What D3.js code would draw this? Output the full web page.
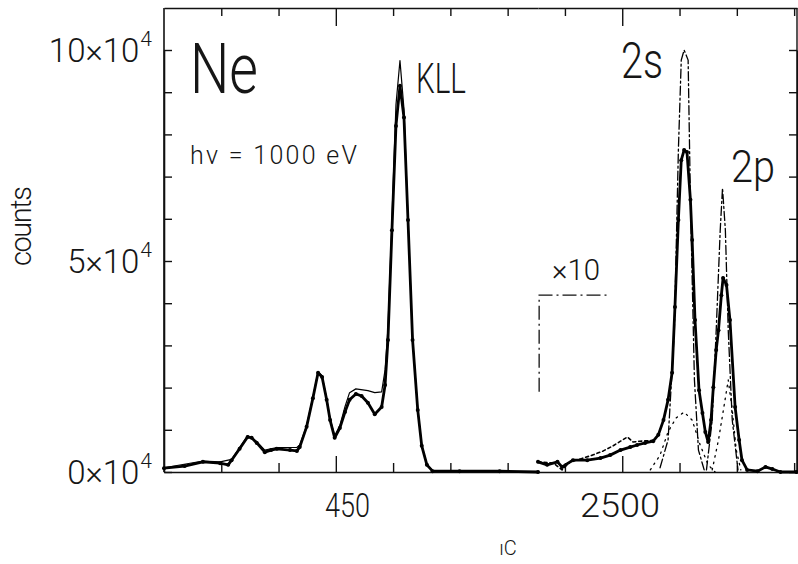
<!DOCTYPE html>
<html>
<head>
<meta charset="utf-8">
<script src="https://cdn.jsdelivr.net/npm/d3@7/dist/d3.min.js"></script>
<style>
  body { margin: 0; background: #fff; }
  text { font-family: Roboto, "Open Sans", "Liberation Sans", sans-serif; font-weight: 300; fill: #161616; }
</style>
</head>
<body>
<div id="chart"></div>
<script>
// Frame size and plot box
const FRAME_WIDTH = 798;
const FRAME_HEIGHT = 564;
const BOX = {left: 164, right: 797, top: 8, bottom: 472, split: 538};

// Broken x axis: two segments
const X_LEFT_DOMAIN = [420, 485.3];
const X_RIGHT_DOMAIN = [2485.3, 2530.5];
const X_LEFT_TICKS = [430, 440, 450, 460, 470, 480];
const X_RIGHT_TICKS = [2490, 2500, 2510, 2520, 2530];
const X_LABELED = [450, 2500];
const Y_TICKS = [0, 1, 2, 3, 4, 5, 6, 7, 8, 9, 10];
const Y_LABELED = [0, 5, 10];

// KLL Auger region (counts in units of 10^4)
const kllMeasured = [[420.0,0.09],[423.6,0.14],[426.8,0.24],[429.8,0.21],[431.2,0.17],[431.8,0.28],[433.2,0.55],
  [434.6,0.83],[435.3,0.81],[436.2,0.69],[437.6,0.47],[438.7,0.52],[439.7,0.55],[442.0,0.52],[443.2,0.50],
  [443.7,0.59],[444.9,1.07],[446.0,1.75],[446.9,2.35],[447.6,2.25],[448.4,1.71],[449.0,1.23],[449.8,0.81],
  [450.7,1.04],[451.6,1.42],[452.4,1.71],[453.5,1.85],[454.5,1.80],[455.6,1.64],[456.8,1.37],[458.0,1.54],
  [458.6,2.06],[459.1,3.13],[459.8,5.73],[460.5,8.20],[461.2,9.15],[461.9,8.40],[462.6,5.97],[463.4,3.13],
  [464.3,1.47],[465.0,0.62],[465.9,0.17],[466.9,0.02],[471.6,0.02],[478.6,0.02],[485.3,0.0]];
const kllFit = [[420.0,0.10],[426.8,0.26],[429.8,0.24],[431.8,0.30],[433.2,0.58],[434.6,0.86],[436.2,0.72],
  [437.6,0.52],[439.7,0.58],[443.2,0.58],[443.7,0.64],[444.9,1.10],[446.0,1.78],[446.9,2.38],[447.6,2.28],
  [448.4,1.74],[449.0,1.26],[449.8,0.86],[450.7,1.10],[451.6,1.55],[452.4,1.88],[453.5,1.97],[455.6,1.93],
  [456.8,1.88],[458.0,1.90],[458.6,2.42],[459.1,3.40],[459.8,6.00],[460.5,8.70],[461.2,9.75],[461.9,8.60],
  [462.6,6.00],[463.4,3.15],[464.3,1.50],[465.0,0.64],[465.9,0.18],[466.9,0.03]];

// 2s / 2p photoline region (x10 below the bracket)
const lineMeasured = [[2485.3,0.24],[2486.9,0.17],[2488.7,0.24],[2489.5,0.12],[2491.4,0.28],[2493.9,0.28],
  [2496.2,0.33],[2497.9,0.40],[2499.7,0.52],[2501.4,0.59],[2502.6,0.64],[2504.0,0.69],[2505.4,0.73],
  [2506.3,0.88],[2507.2,1.23],[2508.0,1.71],[2508.7,2.35],[2509.2,3.91],[2509.8,5.97],[2510.3,7.39],
  [2510.8,7.63],[2511.3,7.58],[2511.9,6.45],[2512.2,5.50],[2512.7,3.60],[2513.4,1.94],[2514.0,1.40],
  [2514.5,0.95],[2515.0,0.71],[2515.5,1.23],[2515.9,2.01],[2516.4,2.89],[2516.8,3.36],[2517.3,4.19],
  [2517.6,4.60],[2518.2,4.43],[2518.8,3.60],[2519.7,1.54],[2520.4,0.76],[2520.9,0.28],[2521.8,0.05],
  [2523.6,0.02],[2525.0,0.12],[2526.2,0.07],[2527.6,0.0],[2530.4,0.0]];
const lineRaw = [[2485.3,0.24],[2488.0,0.21],[2489.5,0.05],[2490.9,0.24],[2492.7,0.31],[2494.8,0.40],
  [2496.7,0.50],[2498.4,0.62],[2499.7,0.73],[2500.9,0.83],[2501.9,0.71],[2503.1,0.73],[2505.4,0.75]];
const peak2s = [[2506.6,0.10],[2508.0,0.76],[2509.1,3.36],[2509.8,7.63],[2510.3,9.76],[2510.8,10.0],
  [2511.5,9.76],[2511.9,6.45],[2512.6,2.18],[2513.3,0.52],[2514.3,0.05]];
const peak2p = [[2514.7,0.05],[2515.7,1.23],[2516.4,3.36],[2517.1,5.73],[2517.5,6.73],[2518.0,5.73],
  [2518.5,3.36],[2519.2,1.23],[2520.2,0.05]];
const comp2s = [[2504.9,0.05],[2506.6,0.40],[2508.0,0.95],[2509.4,1.28],[2510.8,1.42],[2512.2,1.23],
  [2513.6,0.64],[2515.0,0.17],[2516.2,0.0]];
const comp2p = [[2515.7,0.05],[2516.8,0.76],[2517.8,1.59],[2518.5,2.18],[2519.2,1.47],[2519.9,0.52],[2520.7,0.05]];

const FRAME = d3.select("#chart")
  .append("svg")
    .attr("width", FRAME_WIDTH)
    .attr("height", FRAME_HEIGHT);

// Scales
const X_LEFT = d3.scaleLinear().domain(X_LEFT_DOMAIN).range([BOX.left, BOX.split]);
const X_RIGHT = d3.scaleLinear().domain(X_RIGHT_DOMAIN).range([BOX.split, BOX.right]);
const Y = d3.scaleLinear().domain([0, 10]).range([BOX.bottom, 50]);
const xOf = v => v < 2000 ? X_LEFT(v) : X_RIGHT(v);

// Axes with inward ticks, longer ticks where labeled
function styleAxis(g) {
  g.selectAll("path.domain").attr("stroke", "#111").attr("stroke-width", 1.6);
  g.selectAll(".tick line").attr("stroke", "#111").attr("stroke-width", 1.4);
  g.selectAll(".tick text").remove();
}

function xAxes(scale, ticks) {
  FRAME.append("g")
    .attr("transform", "translate(0," + BOX.bottom + ")")
    .call(d3.axisBottom(scale).tickValues(ticks).tickSizeInner(-9).tickSizeOuter(0))
    .call(styleAxis)
    .selectAll(".tick line")
      .attr("y2", d => X_LABELED.includes(d) ? -16 : -9);
  FRAME.append("g")
    .attr("transform", "translate(0," + BOX.top + ")")
    .call(d3.axisTop(scale).tickValues(ticks).tickSizeInner(-8).tickSizeOuter(0))
    .call(styleAxis)
    .selectAll(".tick line")
      .attr("y2", d => X_LABELED.includes(d) ? 18 : 8);
}
xAxes(X_LEFT, X_LEFT_TICKS);
xAxes(X_RIGHT, X_RIGHT_TICKS);

FRAME.append("g")
  .attr("transform", "translate(" + BOX.left + ",0)")
  .call(d3.axisLeft(Y).tickValues(Y_TICKS).tickSizeInner(-8).tickSizeOuter(0))
  .call(styleAxis);
FRAME.append("g")
  .attr("transform", "translate(" + BOX.right + ",0)")
  .call(d3.axisRight(Y).tickValues(Y_TICKS).tickSizeInner(-8).tickSizeOuter(0))
  .call(styleAxis);

// Frame lines to close the box (axis domains stop at the scale range)
FRAME.append("line").attr("x1", BOX.left).attr("x2", BOX.left).attr("y1", BOX.top).attr("y2", BOX.bottom)
  .attr("stroke", "#111").attr("stroke-width", 1.6);
FRAME.append("line").attr("x1", BOX.right).attr("x2", BOX.right).attr("y1", BOX.top).attr("y2", BOX.bottom)
  .attr("stroke", "#111").attr("stroke-width", 1.4);

// Y tick labels  (k x 10^4), mantissa and exponent in one text
const yLab = FRAME.selectAll("text.ylab")
  .data(Y_LABELED)
  .enter()
  .append("text")
    .attr("class", "ylab")
    .attr("x", 152)
    .attr("y", d => Y(d) + 12)
    .attr("text-anchor", "end")
    .attr("font-size", "33px");
yLab.append("tspan").text(d => d + "\u00d710");
yLab.append("tspan")
  .attr("dx", 1)
  .attr("dy", -16)
  .attr("font-size", "21px")
  .text("4");

// X tick labels
FRAME.append("text").attr("x", 325).attr("y", 517).attr("font-size", "33px")
  .attr("textLength", 45).attr("lengthAdjust", "spacingAndGlyphs").text("450");
FRAME.append("text").attr("x", 580).attr("y", 517).attr("font-size", "33px")
  .attr("textLength", 80).attr("lengthAdjust", "spacingAndGlyphs").text("2500");

// Axis titles
FRAME.append("text")
  .attr("transform", "translate(31,226) rotate(-90)")
  .attr("text-anchor", "middle")
  .attr("font-size", "29px")
  .attr("textLength", 80)
  .attr("lengthAdjust", "spacing")
  .text("counts");
FRAME.append("text").attr("x", 508).attr("y", 555).attr("text-anchor", "middle")
  .attr("font-size", "20px").text("ıC");

// Curves
const line = d3.line().x(d => xOf(d[0])).y(d => Y(d[1])).curve(d3.curveLinear);

function drawCurve(data, width, dash) {
  FRAME.append("path")
    .datum(data)
    .attr("fill", "none")
    .attr("stroke", "#000")
    .attr("stroke-width", width)
    .attr("stroke-linejoin", "round")
    .attr("stroke-linecap", "round")
    .attr("stroke-dasharray", dash)
    .attr("d", line);
}

drawCurve(comp2s, 1.3, "1.5,5");
drawCurve(comp2p, 1.3, "1.5,5");
drawCurve(peak2s, 1.3, "9,3,2,3");
drawCurve(peak2p, 1.3, "9,3,2,3");
drawCurve(lineRaw, 1.6, "3,3");
drawCurve(kllFit, 1.2, null);
drawCurve(kllMeasured, 2.8, null);
drawCurve(lineMeasured, 2.8, null);

// Data point dots on the measured curves
FRAME.selectAll("circle.pt")
  .data(kllMeasured.concat(lineMeasured))
  .enter()
  .append("circle")
    .attr("cx", d => xOf(d[0]))
    .attr("cy", d => Y(d[1]))
    .attr("r", 2)
    .attr("fill", "#000");

// x10 bracket
const bx0 = X_RIGHT(2485.5), bx1 = X_RIGHT(2497.6);
FRAME.append("path")
  .attr("d", "M" + bx0 + "," + Y(1.9) + "V" + Y(4.19) + "H" + bx1)
  .attr("fill", "none")
  .attr("stroke", "#111")
  .attr("stroke-width", 1.3)
  .attr("stroke-dasharray", "14,4,2,4");
FRAME.append("text").attr("x", 552).attr("y", 280).attr("font-size", "30px")
  .attr("textLength", 48).attr("lengthAdjust", "spacingAndGlyphs").text("\u00d710");

// Annotations
FRAME.append("text").attr("x", 190).attr("y", 93).attr("font-size", "70px")
  .attr("textLength", 68).attr("lengthAdjust", "spacingAndGlyphs").text("Ne");
FRAME.append("text").attr("x", 190).attr("y", 164).attr("font-size", "25px")
  .attr("textLength", 167).attr("lengthAdjust", "spacing").text("h\u03bd = 1000 eV");
FRAME.append("text").attr("x", 416).attr("y", 93).attr("font-size", "43px")
  .attr("textLength", 50).attr("lengthAdjust", "spacingAndGlyphs").text("KLL");
FRAME.append("text").attr("x", 621).attr("y", 78).attr("font-size", "50px")
  .attr("textLength", 42).attr("lengthAdjust", "spacingAndGlyphs").text("2s");
FRAME.append("text").attr("x", 731).attr("y", 182).attr("font-size", "44px")
  .attr("textLength", 44).attr("lengthAdjust", "spacingAndGlyphs").text("2p");
</script>
</body>
</html>
